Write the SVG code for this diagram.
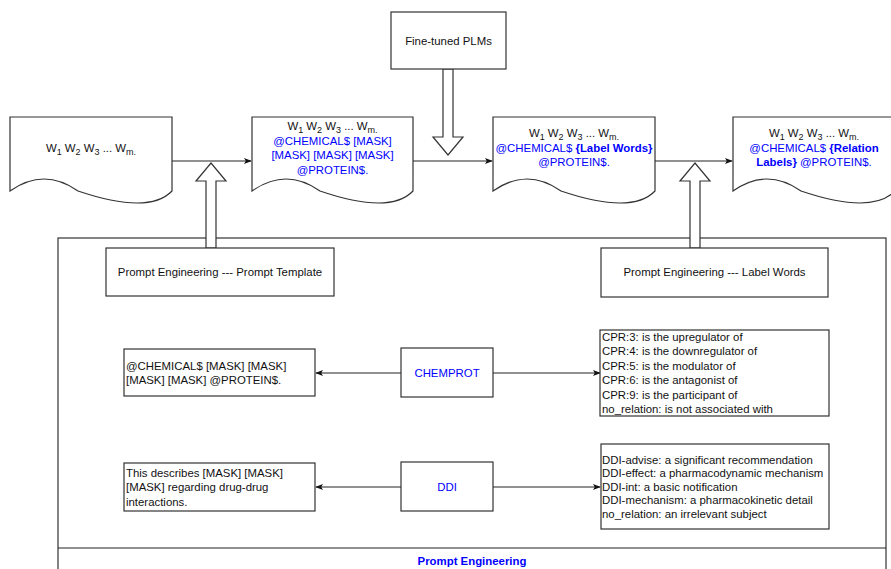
<svg xmlns="http://www.w3.org/2000/svg" width="891" height="569" viewBox="0 0 891 569">
<defs>
<style>
text{font-family:"Liberation Sans",Arial,sans-serif;font-size:11.4px;fill:#111}
.blue{fill:#0000ff}
.b{font-weight:bold}
.sub{font-size:9px}
.shape{fill:#fff;stroke:#333;stroke-width:1.2}
.line{fill:none;stroke:#222;stroke-width:1.2}
.mid{text-anchor:middle}
</style>
<marker id="ah" viewBox="0 0 10 10" refX="9" refY="5" markerWidth="8" markerHeight="8" markerUnits="userSpaceOnUse" orient="auto">
<path d="M0,1 L10,5 L0,9 L2.5,5 Z" fill="#111"/>
</marker>
</defs>
<rect width="891" height="569" fill="#fff"/>

<g id="container">
<rect class="shape" x="58" y="238" width="828" height="340"/>
<line class="line" x1="58" y1="548" x2="886" y2="548"/>
<text class="blue b mid" x="472" y="565" font-size="11">Prompt Engineering</text>
</g>

<g id="connectors">
<line class="line" x1="172" y1="161" x2="251" y2="161" marker-end="url(#ah)"/>
<line class="line" x1="413" y1="161" x2="492" y2="161" marker-end="url(#ah)"/>
<line class="line" x1="655" y1="161" x2="732" y2="161" marker-end="url(#ah)"/>
<line class="line" x1="401" y1="373" x2="316" y2="373" marker-end="url(#ah)"/>
<line class="line" x1="493" y1="373" x2="600" y2="373" marker-end="url(#ah)"/>
<line class="line" x1="401" y1="487" x2="316" y2="487" marker-end="url(#ah)"/>
<line class="line" x1="493" y1="487" x2="600" y2="487" marker-end="url(#ah)"/>
<path class="shape" d="M443,69 V137 H433 L448,155 L463,137 H453 V69 Z"/>
<path class="shape" d="M206,248 V181 H196 L211,163 L226,181 H216 V248 Z"/>
<path class="shape" d="M690,248 V181 H680 L695,163 L710,181 H700 V248 Z"/>
</g>

<g id="plms">
<rect class="shape" x="391" y="12" width="115" height="57"/>
<text class="mid" x="448.5" y="45">Fine-tuned PLMs</text>
</g>

<g id="doc1">
<path class="shape" d="M10,117 H172 V191 Q149,215 78,191 Q44,167 10,191 Z"/>
<text class="mid" x="91" y="152">W<tspan class="sub" dy="3">1</tspan><tspan dy="-3"> W</tspan><tspan class="sub" dy="3">2</tspan><tspan dy="-3"> W</tspan><tspan class="sub" dy="3">3</tspan><tspan dy="-3"> ... W</tspan><tspan class="sub" dy="3">m.</tspan></text>
</g>

<g id="doc2">
<path class="shape" d="M252,117 H413 V191 Q390,215 320,191 Q286,167 252,191 Z"/>
<text class="mid" x="332.5" y="130">W<tspan class="sub" dy="3">1</tspan><tspan dy="-3"> W</tspan><tspan class="sub" dy="3">2</tspan><tspan dy="-3"> W</tspan><tspan class="sub" dy="3">3</tspan><tspan dy="-3"> ... W</tspan><tspan class="sub" dy="3">m.</tspan></text>
<text class="mid blue" x="332.5" y="144.5">@CHEMICAL$ [MASK]</text>
<text class="mid blue" x="332.5" y="159">[MASK] [MASK] [MASK]</text>
<text class="mid blue" x="332.5" y="173.5">@PROTEIN$.</text>
</g>

<g id="doc3">
<path class="shape" d="M493,117 H655 V191 Q632,215 561,191 Q527,167 493,191 Z"/>
<text class="mid" x="574" y="137">W<tspan class="sub" dy="3">1</tspan><tspan dy="-3"> W</tspan><tspan class="sub" dy="3">2</tspan><tspan dy="-3"> W</tspan><tspan class="sub" dy="3">3</tspan><tspan dy="-3"> ... W</tspan><tspan class="sub" dy="3">m.</tspan></text>
<text class="mid blue" x="574" y="151.5">@CHEMICAL$ <tspan class="b">{Label Words}</tspan></text>
<text class="mid blue" x="574" y="166">@PROTEIN$.</text>
</g>

<g id="doc4">
<path class="shape" d="M733,117 H895 V191 Q872,215 801,191 Q767,167 733,191 Z"/>
<text class="mid" x="814" y="137">W<tspan class="sub" dy="3">1</tspan><tspan dy="-3"> W</tspan><tspan class="sub" dy="3">2</tspan><tspan dy="-3"> W</tspan><tspan class="sub" dy="3">3</tspan><tspan dy="-3"> ... W</tspan><tspan class="sub" dy="3">m.</tspan></text>
<text class="mid blue" x="814" y="151.5">@CHEMICAL$ <tspan class="b">{Relation</tspan></text>
<text class="mid blue" x="814" y="166"><tspan class="b">Labels}</tspan> @PROTEIN$.</text>
</g>

<g id="prompt-template">
<rect class="shape" x="106" y="248" width="228" height="48"/>
<text class="mid" x="220" y="276">Prompt Engineering --- Prompt Template</text>
</g>

<g id="label-words">
<rect class="shape" x="601" y="248" width="227" height="49"/>
<text class="mid" x="714.5" y="276">Prompt Engineering --- Label Words</text>
</g>

<g id="chemprot">
<rect class="shape" x="401" y="348" width="92" height="49"/>
<text class="mid blue" x="447" y="377">CHEMPROT</text>
</g>

<g id="ddi">
<rect class="shape" x="401" y="462" width="92" height="49"/>
<text class="mid blue" x="447" y="491">DDI</text>
</g>

<g id="chemprot-template">
<rect class="shape" x="124" y="349" width="191" height="47"/>
<text x="126" y="369.5">@CHEMICAL$ [MASK] [MASK]</text>
<text x="126" y="384">[MASK] [MASK] @PROTEIN$.</text>
</g>

<g id="ddi-template">
<rect class="shape" x="124" y="463" width="191" height="48"/>
<text x="126" y="476.5">This describes [MASK] [MASK]</text>
<text x="126" y="491">[MASK] regarding drug-drug</text>
<text x="126" y="505.5">interactions.</text>
</g>

<g id="chemprot-labels">
<rect class="shape" x="600" y="330" width="229" height="86"/>
<text x="602" y="341">CPR:3: is the upregulator of</text>
<text x="602" y="355.4">CPR:4: is the downregulator of</text>
<text x="602" y="369.8">CPR:5: is the modulator of</text>
<text x="602" y="384.2">CPR:6: is the antagonist of</text>
<text x="602" y="398.6">CPR:9: is the participant of</text>
<text x="602" y="413">no_relation: is not associated with</text>
</g>

<g id="ddi-labels">
<rect class="shape" x="601" y="444" width="228" height="85"/>
<text x="602" y="463.5">DDI-advise: a significant recommendation</text>
<text x="602" y="477">DDI-effect: a pharmacodynamic mechanism</text>
<text x="602" y="490.5">DDI-int: a basic notification</text>
<text x="602" y="504">DDI-mechanism: a pharmacokinetic detail</text>
<text x="602" y="517.5">no_relation: an irrelevant subject</text>
</g>
</svg>
